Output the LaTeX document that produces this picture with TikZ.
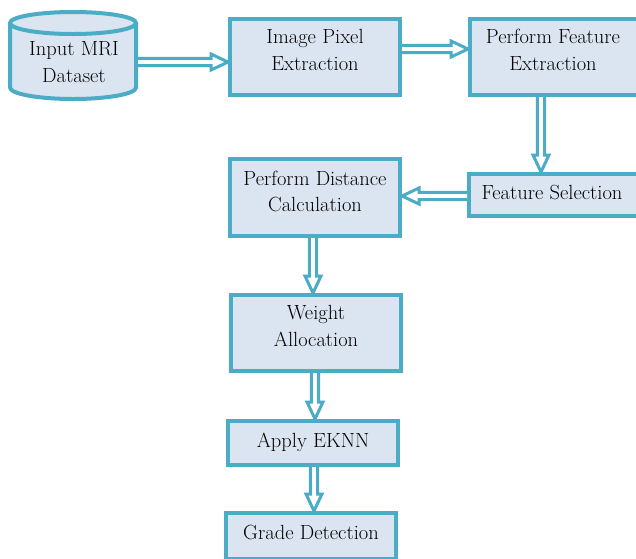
\documentclass[tikz,border=0pt]{standalone}
\usetikzlibrary{decorations.markings,calc}
\definecolor{bord}{RGB}{75,172,198}
\definecolor{boxfill}{RGB}{219,229,241}
\tikzset{
  box/.style={draw=bord, fill=boxfill, line width=4pt, minimum width=170pt, inner sep=0pt},
  txt/.style={align=center, font=\fontsize{20.5}{26.5}\selectfont, inner sep=0pt, text=black},
  dblarrow/.style={decorate, decoration={markings, mark=at position 0 with {
      \pgfmathsetmacro\arrL{\pgfdecoratedpathlength}
      \pgfmathsetmacro\arrB{\arrL-17}
      \fill[white] (0pt,3.6pt) -- (\arrB pt,3.6pt) -- (\arrB pt,8pt) -- (\arrL pt,0pt)
        -- (\arrB pt,-8pt) -- (\arrB pt,-3.6pt) -- (0pt,-3.6pt) -- cycle;
      \draw[bord, line width=3pt, line join=miter] (0pt,3.6pt) -- (\arrB pt,3.6pt) -- (\arrB pt,8pt) -- (\arrL pt,0pt)
        -- (\arrB pt,-8pt) -- (\arrB pt,-3.6pt) -- (0pt,-3.6pt);
  }}}
}
\begin{document}
\begin{tikzpicture}[x=1pt,y=1pt]
\useasboundingbox (0,0) rectangle (636,-558);
\clip (0,0) rectangle (636,-558);
\fill[white] (0,0) rectangle (636,-558);
% cylinder
\filldraw[draw=bord, fill=boxfill, line width=4pt]
  (10,-23) -- (10,-87.5) arc[start angle=180,end angle=360,x radius=63,y radius=11.5]
  -- (136,-23) arc[start angle=0,end angle=180,x radius=63,y radius=11] -- cycle;
\draw[bord, line width=4pt] (10,-23) arc[start angle=180,end angle=360,x radius=63,y radius=11];
\node[txt, minimum width=128pt] (mri) at (74,-62) {Input MRI\\Dataset};
% boxes
\node[box, minimum height=76pt] (ipe) at (315,-57) {};
\node[txt] (ipet) at (315,-50) {Image Pixel\\Extraction};
\node[box, minimum height=76pt] (pfe) at (555,-57) {};
\node[txt] (pfet) at (553,-50) {Perform Feature\\Extraction};
\node[box, minimum height=42pt] (fs) at (554,-195) {};
\node[txt] (fst) at (552,-192.5) {Feature Selection};
\node[box, minimum height=77pt] (pdc) at (315,-197.5) {};
\node[txt] (pdct) at (315,-191.5) {Perform Distance\\Calculation};
\node[box, minimum height=76pt] (wa) at (316,-333) {};
\node[txt] (wat) at (316,-326) {Weight\\Allocation};
\node[box, minimum height=44pt] (ek) at (313,-443) {};
\node[txt] (ekt) at (313,-442) {Apply EKNN};
\node[box, minimum height=46pt] (gd) at (311,-536) {};
\node[txt] (gdt) at (311,-532) {Grade Detection};
% arrows
\path[dblarrow] (mri.east) -- (ipe.west |- mri.east);
\path[dblarrow] (ipe.east |- 0,-49) -- (pfe.west |- 0,-49);
\path[dblarrow] (pfe.south -| 541,0) -- (fs.north -| 541,0);
\path[dblarrow] (fs.west |- 0,-196) -- (pdc.east |- 0,-196);
\path[dblarrow] (pdc.south -| 313,0) -- (wa.north -| 313,0);
\path[dblarrow] (wa.south -| 315,0) -- (ek.north -| 315,0);
\path[dblarrow] (ek.south -| 314,0) -- (gd.north -| 314,0);
\end{tikzpicture}
\end{document}
